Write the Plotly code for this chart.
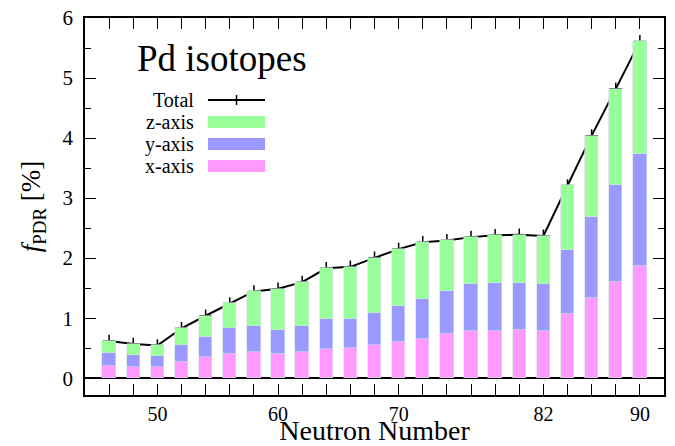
import plotly.graph_objects as go

# Neutron numbers of Pd isotopes
neutrons = [46, 48, 50, 52, 54, 56, 58, 60, 62, 64, 66, 68, 70, 72, 74, 76, 78, 80, 82, 84, 86, 88, 90]

# PDR strength contributions (%) per axis (stacked segments)
x_axis = [0.205, 0.19, 0.18, 0.27, 0.345, 0.41, 0.43, 0.40, 0.43, 0.48, 0.50, 0.545, 0.60, 0.66, 0.73, 0.785, 0.79, 0.795, 0.785, 1.07, 1.34, 1.60, 1.87]
y_axis = [0.21, 0.19, 0.185, 0.275, 0.345, 0.42, 0.44, 0.405, 0.435, 0.50, 0.49, 0.545, 0.60, 0.66, 0.72, 0.78, 0.795, 0.795, 0.79, 1.07, 1.34, 1.61, 1.86]
z_axis = [0.20, 0.19, 0.18, 0.285, 0.35, 0.415, 0.575, 0.685, 0.735, 0.85, 0.865, 0.915, 0.95, 0.945, 0.845, 0.785, 0.795, 0.80, 0.79, 1.07, 1.36, 1.61, 1.88]
total = [0.62, 0.57, 0.545, 0.83, 1.04, 1.245, 1.445, 1.49, 1.60, 1.83, 1.855, 2.005, 2.15, 2.265, 2.295, 2.35, 2.38, 2.39, 2.37, 3.21, 4.04, 4.82, 5.61]

x_tick_labels = {50: "50", 60: "60", 70: "70", 82: "82", 90: "90"}
y_tick_vals = [0, 1, 2, 3, 4, 5, 6]

FONT = "Liberation Serif"
C_X = "#ff99ff"
C_Y = "#9999ff"
C_Z = "#99ff99"

X_RANGE = [44, 92]
Y_RANGE = [-0.28, 6]

fig = go.Figure()

# Total line on the base axes; bars on an overlaid axis pair so they are drawn above the line
fig.add_trace(go.Scatter(
    x=neutrons, y=total, mode="lines+markers", name="Total",
    line=dict(color="black", width=2),
    marker=dict(symbol="cross-thin", size=9, line=dict(color="black", width=1.5)),
    showlegend=False,
))
bar_w = 1.1
for vals, col, nm in [(x_axis, C_X, "x-axis"), (y_axis, C_Y, "y-axis"), (z_axis, C_Z, "z-axis")]:
    fig.add_trace(go.Bar(
        x=neutrons, y=vals, name=nm, width=bar_w, xaxis="x2", yaxis="y2",
        marker=dict(color=col, line=dict(width=0.6, color="rgba(210,225,235,1)")),
        showlegend=False,
    ))

# plot-area geometry helpers for the hand-drawn key (paper coords)
L, R, T, B = 85, 664, 18, 395
W, H = R - L, B - T
def px(xp):
    return (xp - L) / W
def py(yp):
    return (B - yp) / H

annotations = [
    dict(text="Pd isotopes", x=px(222), y=py(58), xref="paper", yref="paper",
         showarrow=False, font=dict(family=FONT, size=37, color="black"),
         xanchor="center", yanchor="middle"),
]
key_rows = [("Total", 100), ("z-axis", 122), ("y-axis", 144), ("x-axis", 166)]
for label, yp in key_rows:
    annotations.append(dict(text=label, x=px(196), y=py(yp), xref="paper", yref="paper",
                            showarrow=False, font=dict(family=FONT, size=20, color="black"),
                            xanchor="right", yanchor="middle"))

shapes = [
    dict(type="line", xref="paper", yref="paper", x0=px(208), x1=px(265), y0=py(100), y1=py(100),
         line=dict(color="black", width=2)),
    dict(type="line", xref="paper", yref="paper", x0=px(236.5), x1=px(236.5), y0=py(95), y1=py(105),
         line=dict(color="black", width=1.5)),
]
for (label, yp), col in zip(key_rows[1:], [C_Z, C_Y, C_X]):
    shapes.append(dict(type="rect", xref="paper", yref="paper", x0=px(208), x1=px(265),
                       y0=py(yp + 6), y1=py(yp - 6), fillcolor=col, line=dict(width=0)))

fig.update_layout(
    width=675, height=446,
    margin=dict(l=L, r=675 - R, t=T, b=446 - B),
    barmode="stack", bargap=0,
    plot_bgcolor="white", paper_bgcolor="white",
    font=dict(family=FONT, size=20, color="black"),
    annotations=annotations, shapes=shapes,
    xaxis=dict(
        range=X_RANGE, automargin=False,
        tickvals=neutrons,
        ticktext=[x_tick_labels.get(n, "") for n in neutrons],
        ticks="inside", ticklen=11, tickwidth=1, tickcolor="black",
        showline=True, linecolor="black", linewidth=1.5, mirror="ticks",
        showgrid=False, zeroline=False,
        tickfont=dict(family=FONT, size=20),
        title=dict(text="Neutron Number", font=dict(family=FONT, size=28), standoff=8),
    ),
    yaxis=dict(
        range=Y_RANGE, automargin=False,
        tickvals=y_tick_vals,
        ticks="inside", ticklen=11, tickwidth=1, tickcolor="black",
        minor=dict(dtick=0.5, ticks="inside", ticklen=6, tickcolor="black", showgrid=False),
        showline=True, linecolor="black", linewidth=1.5, mirror="ticks",
        showgrid=False, zeroline=True, zerolinecolor="black", zerolinewidth=1.5,
        tickfont=dict(family=FONT, size=21),
        ticklabelstandoff=6,
        title=dict(text="<i>f</i><sub>PDR</sub> [%]", font=dict(family=FONT, size=27), standoff=14),
    ),
    xaxis2=dict(range=X_RANGE, overlaying="x", visible=False, automargin=False),
    yaxis2=dict(range=Y_RANGE, overlaying="y", visible=False, automargin=False),
)

fig.write_html("out.html", config={"displayModeBar": False},
               post_script="document.body.style.margin='0';document.body.style.overflow='hidden';")
